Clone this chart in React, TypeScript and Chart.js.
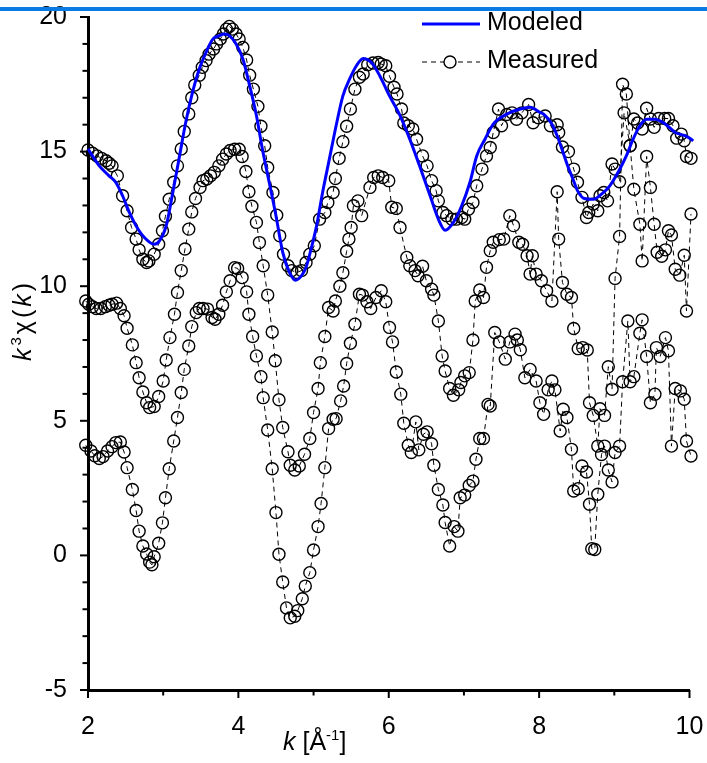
import React, { useEffect, useRef } from "react";
import { Chart, registerables } from "chart.js";

Chart.register(...registerables);

const FONT = '"Liberation Sans", Arial, Helvetica, sans-serif';

const xTickValues = [2, 4, 6, 8, 10];
const yTickValues = [-5, 0, 5, 10, 15, 20];
const legendLabels = ["Modeled", "Measured"];

const modeled: [number, number][] = [
  [2.0, 15.1], [2.06, 14.84], [2.15, 14.47], [2.28, 14.1], [2.37, 13.86], [2.46, 13.36], [2.55, 12.74],
  [2.64, 12.24], [2.75, 11.81], [2.88, 11.56], [2.95, 11.68], [3.04, 12.24], [3.12, 13.36], [3.21, 14.72],
  [3.3, 16.09], [3.39, 17.2], [3.48, 18.07], [3.57, 18.69], [3.66, 19.18], [3.75, 19.31], [3.81, 19.37],
  [3.88, 19.31], [3.97, 19.0], [4.06, 18.44], [4.15, 17.45], [4.24, 16.34], [4.32, 15.09], [4.41, 13.86],
  [4.5, 12.62], [4.59, 11.26], [4.68, 10.51], [4.76, 10.22], [4.84, 10.39], [4.9, 10.7], [4.96, 11.3],
  [5.04, 12.24], [5.12, 13.48], [5.21, 14.72], [5.3, 15.96], [5.39, 17.07], [5.48, 17.7], [5.57, 18.19],
  [5.66, 18.46], [5.77, 18.31], [5.88, 17.82], [6.01, 17.07], [6.15, 16.34], [6.28, 15.46], [6.41, 14.47],
  [6.55, 13.36], [6.66, 12.49], [6.75, 12.08], [6.86, 12.37], [6.97, 12.99], [7.08, 13.86], [7.17, 14.84],
  [7.28, 15.46], [7.39, 16.02], [7.57, 16.39], [7.75, 16.58], [7.88, 16.65], [8.01, 16.46], [8.06, 16.39],
  [8.17, 16.02], [8.24, 15.59], [8.31, 15.04], [8.38, 14.47], [8.45, 13.98], [8.51, 13.55], [8.6, 13.26],
  [8.72, 13.23], [8.83, 13.42], [8.94, 13.73], [9.05, 14.23], [9.16, 14.84], [9.25, 15.46], [9.34, 15.96],
  [9.43, 16.2], [9.54, 16.2], [9.68, 16.02], [9.81, 15.71], [9.94, 15.59], [10.05, 15.4], [10.12, 15.22],
];

const measuredTop: [number, number][] = [
  [2.0, 15.06], [2.06, 14.94], [2.12, 14.84], [2.18, 14.75], [2.24, 14.66], [2.28, 14.57], [2.32, 14.47],
  [2.39, 14.1], [2.46, 13.36], [2.52, 12.8], [2.58, 12.18], [2.64, 11.75], [2.68, 11.35], [2.73, 11.0],
  [2.78, 10.88], [2.81, 10.94], [2.88, 11.19], [2.94, 11.56], [2.99, 12.06], [3.03, 12.6], [3.08, 13.23],
  [3.14, 13.86], [3.19, 14.47], [3.24, 15.1], [3.28, 15.75], [3.34, 16.4], [3.38, 17.0], [3.42, 17.47],
  [3.48, 17.84], [3.52, 18.13], [3.57, 18.38], [3.61, 18.62], [3.67, 18.81], [3.71, 19.0], [3.76, 19.18],
  [3.8, 19.37], [3.84, 19.55], [3.88, 19.65], [3.92, 19.55], [3.97, 19.37], [4.01, 19.18], [4.06, 18.87],
  [4.11, 18.4], [4.15, 17.84], [4.2, 17.32], [4.26, 16.68], [4.3, 15.94], [4.35, 15.22], [4.39, 14.41],
  [4.46, 13.48], [4.51, 12.64], [4.55, 11.87], [4.6, 11.19], [4.66, 10.76], [4.71, 10.58], [4.78, 10.51],
  [4.84, 10.58], [4.9, 10.88], [4.95, 11.19], [5.01, 11.5], [5.08, 12.49], [5.15, 12.74], [5.19, 13.11],
  [5.26, 13.48], [5.29, 14.0], [5.34, 14.75], [5.39, 15.37], [5.44, 15.94], [5.49, 16.58], [5.55, 17.32],
  [5.61, 17.76], [5.66, 17.88], [5.72, 18.23], [5.79, 18.29], [5.86, 18.31], [5.9, 18.25], [5.96, 18.19],
  [6.01, 17.8], [6.07, 17.39], [6.11, 17.14], [6.17, 16.58], [6.2, 16.06], [6.26, 15.96], [6.32, 15.84],
  [6.37, 15.46], [6.45, 14.84], [6.51, 14.47], [6.57, 13.92], [6.63, 13.55], [6.66, 13.17], [6.72, 12.74],
  [6.77, 12.62], [6.84, 12.49], [6.9, 12.49], [6.97, 12.55], [7.01, 12.49], [7.06, 12.86], [7.12, 13.11],
  [7.17, 13.73], [7.24, 14.35], [7.3, 14.84], [7.35, 15.15], [7.39, 15.71], [7.46, 16.58], [7.5, 15.96],
  [7.57, 16.38], [7.64, 16.44], [7.7, 16.2], [7.77, 16.44], [7.86, 16.75], [7.92, 16.07], [7.99, 16.26],
  [8.08, 16.32], [8.15, 15.96], [8.24, 16.0], [8.26, 15.71], [8.31, 15.17], [8.39, 15.0], [8.46, 14.35],
  [8.51, 13.86], [8.57, 13.3], [8.63, 12.55], [8.66, 12.74], [8.72, 13.05], [8.78, 12.8], [8.81, 13.36],
  [8.86, 13.48], [8.91, 13.17], [8.97, 14.54], [9.01, 14.35], [9.07, 13.88], [9.13, 16.44], [9.21, 15.22],
  [9.26, 16.21], [9.31, 16.06], [9.37, 15.84], [9.43, 16.61], [9.48, 16.21], [9.53, 15.9], [9.59, 16.23],
  [9.67, 16.23], [9.72, 16.23], [9.78, 15.96], [9.83, 15.5], [9.89, 15.65], [9.93, 15.4], [9.96, 14.82],
  [10.02, 14.75],
];

const measuredMiddle: [number, number][] = [
  [1.97, 9.45], [2.01, 9.33], [2.06, 9.24], [2.11, 9.17], [2.17, 9.17], [2.23, 9.24], [2.28, 9.29],
  [2.32, 9.33], [2.38, 9.37], [2.43, 9.17], [2.48, 8.9], [2.52, 8.44], [2.59, 7.82], [2.64, 7.16],
  [2.68, 6.6], [2.73, 6.07], [2.78, 5.67], [2.82, 5.49], [2.88, 5.53], [2.94, 5.9], [3.0, 6.48],
  [3.04, 7.26], [3.09, 8.09], [3.15, 8.96], [3.19, 9.77], [3.24, 10.58], [3.29, 11.38], [3.34, 12.12],
  [3.38, 12.76], [3.43, 13.26], [3.49, 13.67], [3.53, 13.92], [3.58, 13.98], [3.63, 14.1], [3.68, 14.23],
  [3.74, 14.47], [3.79, 14.72], [3.84, 14.91], [3.89, 15.04], [3.95, 15.09], [4.01, 15.09], [4.05, 14.82],
  [4.1, 14.26], [4.14, 13.51], [4.18, 12.97], [4.24, 12.37], [4.28, 11.62], [4.33, 10.76], [4.39, 9.67],
  [4.45, 8.3], [4.49, 7.23], [4.54, 5.78], [4.59, 4.75], [4.66, 3.85], [4.69, 3.35], [4.75, 3.17],
  [4.81, 3.32], [4.88, 3.76], [4.95, 4.34], [5.0, 5.31], [5.06, 6.2], [5.09, 7.16], [5.15, 8.13],
  [5.2, 9.21], [5.26, 9.08], [5.29, 9.45], [5.35, 10.0], [5.39, 10.5], [5.44, 11.3], [5.47, 11.75],
  [5.5, 12.18], [5.53, 12.99], [5.59, 13.17], [5.64, 12.62], [5.75, 13.67], [5.8, 14.04], [5.86, 14.1],
  [5.92, 14.04], [6.0, 13.92], [6.04, 12.93], [6.1, 12.89], [6.15, 12.18], [6.24, 11.07], [6.28, 10.76],
  [6.35, 10.58], [6.39, 10.39], [6.45, 10.74], [6.5, 10.2], [6.57, 9.89], [6.6, 9.67], [6.66, 8.71],
  [6.71, 7.41], [6.75, 6.85], [6.81, 6.2], [6.86, 5.95], [6.93, 6.15], [6.96, 6.42], [7.01, 6.67],
  [7.07, 6.79], [7.12, 8.0], [7.15, 9.45], [7.21, 9.86], [7.26, 9.58], [7.3, 10.7], [7.35, 11.32],
  [7.39, 11.63], [7.47, 11.73], [7.53, 11.75], [7.61, 12.62], [7.66, 12.25], [7.73, 11.63], [7.78, 11.56],
  [7.84, 11.13], [7.88, 10.45], [7.91, 11.13], [7.96, 10.45], [8.03, 10.2], [8.1, 9.83], [8.17, 9.45],
  [8.24, 13.51], [8.26, 11.75], [8.31, 10.14], [8.37, 9.7], [8.43, 9.58], [8.46, 8.43], [8.52, 7.68],
  [8.58, 7.72], [8.64, 7.63], [8.67, 5.67], [8.72, 5.2], [8.78, 4.06], [8.81, 5.45], [8.87, 5.2],
  [8.92, 7.01], [8.97, 6.17], [9.01, 10.29], [9.07, 11.85], [9.11, 17.5], [9.16, 17.14], [9.21, 15.22],
  [9.26, 13.6], [9.34, 12.3], [9.37, 10.94], [9.43, 14.82], [9.48, 13.67], [9.53, 12.3], [9.57, 11.26],
  [9.63, 11.11], [9.68, 11.35], [9.72, 12.06], [9.76, 11.9], [9.81, 10.63], [9.87, 10.41], [9.93, 11.15],
  [9.96, 9.08], [10.02, 12.68],
];

const measuredBottom: [number, number][] = [
  [1.97, 4.09], [2.04, 3.88], [2.09, 3.7], [2.15, 3.6], [2.2, 3.67], [2.26, 3.88], [2.32, 4.04],
  [2.37, 4.19], [2.43, 4.21], [2.48, 3.84], [2.52, 3.26], [2.59, 2.45], [2.64, 1.67], [2.68, 0.9],
  [2.73, 0.35], [2.78, 0.05], [2.82, -0.25], [2.85, -0.35], [2.88, -0.05], [2.94, 0.45], [2.99, 1.21],
  [3.03, 2.14], [3.08, 3.22], [3.14, 4.25], [3.19, 5.12], [3.24, 6.05], [3.28, 6.91], [3.34, 7.78],
  [3.38, 8.5], [3.44, 9.02], [3.48, 9.17], [3.53, 9.17], [3.59, 9.15], [3.65, 8.84], [3.69, 8.77],
  [3.74, 8.96], [3.79, 9.29], [3.84, 9.79], [3.89, 10.2], [3.95, 10.69], [3.99, 10.66], [4.05, 10.32],
  [4.11, 9.79], [4.14, 8.96], [4.19, 8.13], [4.24, 7.41], [4.3, 6.64], [4.33, 5.86], [4.39, 4.66],
  [4.45, 3.22], [4.5, 1.59], [4.54, 0.04], [4.59, -0.99], [4.64, -1.95], [4.69, -2.32], [4.75, -2.26],
  [4.79, -2.05], [4.85, -1.61], [4.89, -1.14], [4.95, -0.64], [5.0, 0.2], [5.06, 1.07], [5.1, 1.93],
  [5.15, 3.26], [5.2, 4.71], [5.26, 5.06], [5.3, 5.08], [5.36, 5.74], [5.4, 6.29], [5.44, 7.13],
  [5.49, 7.88], [5.55, 8.59], [5.61, 9.7], [5.65, 9.67], [5.71, 9.42], [5.76, 9.17], [5.83, 9.58],
  [5.9, 9.83], [5.96, 9.42], [6.01, 8.47], [6.05, 7.93], [6.1, 6.81], [6.16, 5.99], [6.2, 4.91],
  [6.26, 4.09], [6.3, 3.82], [6.36, 4.96], [6.4, 3.92], [6.46, 4.5], [6.51, 4.59], [6.57, 4.15],
  [6.6, 3.35], [6.66, 2.45], [6.72, 1.87], [6.75, 1.22], [6.81, 0.35], [6.87, 1.07], [6.92, 0.9],
  [6.95, 2.14], [7.01, 2.24], [7.07, 2.6], [7.12, 2.76], [7.16, 3.57], [7.21, 4.34], [7.26, 4.34],
  [7.32, 5.61], [7.35, 5.55], [7.41, 8.28], [7.47, 7.93], [7.55, 7.29], [7.61, 7.93], [7.68, 8.22],
  [7.71, 8.0], [7.75, 7.64], [7.81, 6.6], [7.88, 6.91], [7.96, 6.48], [8.01, 5.67], [8.06, 5.24],
  [8.12, 6.15], [8.17, 6.48], [8.21, 6.15], [8.28, 4.62], [8.32, 5.43], [8.37, 5.12], [8.43, 3.94],
  [8.46, 2.39], [8.52, 2.48], [8.57, 3.32], [8.63, 3.1], [8.67, 1.9], [8.7, 0.25], [8.74, 0.22],
  [8.78, 2.27], [8.83, 3.75], [8.87, 4.06], [8.92, 3.17], [8.97, 2.73], [9.01, 3.82], [9.07, 4.06],
  [9.11, 6.45], [9.18, 8.71], [9.21, 6.45], [9.26, 6.64], [9.34, 8.25], [9.37, 8.75], [9.43, 7.39],
  [9.48, 5.67], [9.54, 5.99], [9.56, 7.72], [9.61, 7.39], [9.68, 8.09], [9.72, 7.6], [9.76, 4.06],
  [9.81, 6.2], [9.88, 6.11], [9.93, 5.8], [9.96, 4.25], [10.02, 3.69],
];

const toXY = (arr: [number, number][]) => arr.map(([x, y]) => ({ x, y }));

const measuredStyle = {
  showLine: true,
  borderColor: "#000",
  borderWidth: 1,
  borderDash: [5, 4],
  pointStyle: "circle",
  pointRadius: 6,
  pointBorderWidth: 1.4,
  pointBorderColor: "#000",
  pointBackgroundColor: "rgba(0,0,0,0)",
  tension: 0,
  clip: false as any,
};

export default function App() {
  const ref = useRef<HTMLCanvasElement>(null);

  useEffect(() => {
    const canvas = ref.current!;
    const decor = {
      id: "decor",
      afterDraw(chart: any) {
        const ctx = chart.ctx as CanvasRenderingContext2D;
        const xs = chart.scales.x;
        const ys = chart.scales.y;
        const area = chart.chartArea;
        ctx.save();
        // tick marks (major + minor)
        ctx.strokeStyle = "#000";
        ctx.lineWidth = 2;
        for (let v = 2; v <= 10; v++) {
          const px = xs.getPixelForValue(v);
          const len = v % 2 === 0 ? 8 : 5.5;
          ctx.beginPath();
          ctx.moveTo(px, area.bottom);
          ctx.lineTo(px, area.bottom + len);
          ctx.stroke();
        }
        for (let v = -5; v <= 20; v++) {
          const py = ys.getPixelForValue(v);
          const len = v % 5 === 0 ? 8 : 5.5;
          ctx.beginPath();
          ctx.moveTo(area.left - len, py);
          ctx.lineTo(area.left, py);
          ctx.stroke();
        }

        // legend
        ctx.fillStyle = "#000";
        ctx.font = `25px ${FONT}`;
        ctx.textBaseline = "middle";
        ctx.textAlign = "left";
        ctx.strokeStyle = "#0000ff";
        ctx.lineWidth = 3;
        ctx.beginPath();
        ctx.moveTo(422, 24);
        ctx.lineTo(480, 24);
        ctx.stroke();
        ctx.fillText(legendLabels[0], 487, 23);
        ctx.strokeStyle = "#000";
        ctx.lineWidth = 1;
        ctx.setLineDash([5, 4]);
        ctx.beginPath();
        ctx.moveTo(422, 62);
        ctx.lineTo(480, 62);
        ctx.stroke();
        ctx.setLineDash([]);
        ctx.lineWidth = 1.4;
        ctx.beginPath();
        ctx.arc(450, 62, 6, 0, Math.PI * 2);
        ctx.fillStyle = "#fff";
        ctx.fill();
        ctx.stroke();
        ctx.fillStyle = "#000";
        ctx.fillText(legendLabels[1], 487, 61);

        // x axis title: k [Å^-1]
        ctx.textBaseline = "alphabetic";
        let x = 283;
        const by = 750;
        ctx.font = `italic 25px ${FONT}`;
        ctx.fillText("k", x, by);
        x += ctx.measureText("k").width;
        ctx.font = `25px ${FONT}`;
        ctx.fillText(" [Å", x, by);
        x += ctx.measureText(" [Å").width;
        ctx.font = `15px ${FONT}`;
        ctx.fillText("-1", x, by - 10);
        x += ctx.measureText("-1").width;
        ctx.font = `25px ${FONT}`;
        ctx.fillText("]", x, by);

        // y axis title: k^3 χ(k)
        ctx.translate(31, 322);
        ctx.rotate(-Math.PI / 2);
        const gap = 3;
        const parts: [string, string, number][] = [
          ["k", `italic 25px ${FONT}`, 0],
          ["3", `15px ${FONT}`, -10],
          ["χ", `25px ${FONT}`, 0],
          ["(", `25px ${FONT}`, 0],
          ["k", `italic 25px ${FONT}`, 0],
          [")", `25px ${FONT}`, 0],
        ];
        let total = 0;
        for (const [t, f] of parts) {
          ctx.font = f;
          total += ctx.measureText(t).width + gap;
        }
        total -= gap;
        let cx = -total / 2;
        for (const [t, f, dy] of parts) {
          ctx.font = f;
          ctx.fillText(t, cx, dy);
          cx += ctx.measureText(t).width + gap;
        }
        ctx.restore();
      },
    };

    const chart = new Chart(canvas, {
      type: "scatter",
      data: {
        datasets: [
          {
            label: legendLabels[0],
            data: toXY(modeled),
            showLine: true,
            borderColor: "#0000ff",
            borderWidth: 3,
            pointRadius: 0,
            cubicInterpolationMode: "monotone",
            clip: false as any,
          },
          { label: legendLabels[1], data: toXY(measuredTop), ...measuredStyle },
          { label: legendLabels[1] + " 2", data: toXY(measuredMiddle), ...measuredStyle },
          { label: legendLabels[1] + " 3", data: toXY(measuredBottom), ...measuredStyle },
        ] as any,
      },
      options: {
        animation: false,
        responsive: false,
        devicePixelRatio: 1,
        layout: { padding: { top: 17, right: 17.5, left: 0, bottom: 0 } },
        plugins: { legend: { display: false }, tooltip: { enabled: false } },
        scales: {
          x: {
            type: "linear",
            min: 2,
            max: 10,
            afterBuildTicks: (s: any) => {
              s.ticks = xTickValues.map((v) => ({ value: v }));
            },
            afterFit: (s: any) => {
              s.height = 73;
              s.paddingLeft = 0;
              s.paddingRight = 0;
            },
            ticks: { font: { family: FONT, size: 25 }, color: "#000", padding: 22, maxRotation: 0 },
            grid: { display: true, drawOnChartArea: false, drawTicks: false },
            border: { display: true, color: "#000", width: 3 },
          },
          y: {
            type: "linear",
            min: -5,
            max: 20,
            afterBuildTicks: (s: any) => {
              s.ticks = yTickValues.map((v) => ({ value: v }));
            },
            afterFit: (s: any) => {
              s.width = 88;
              s.paddingTop = 0;
              s.paddingBottom = 0;
            },
            ticks: { font: { family: FONT, size: 25 }, color: "#000", padding: 21 },
            grid: { display: true, drawOnChartArea: false, drawTicks: false },
            border: { display: true, color: "#000", width: 3 },
          },
        },
      } as any,
      plugins: [decor],
    });
    return () => chart.destroy();
  }, []);

  return (
    <div style={{ position: "absolute", left: 0, top: 0, width: 707, height: 763, background: "#fff" }}>
      <canvas ref={ref} width={707} height={763} style={{ display: "block", width: 707, height: 763 }} />
      <div
        style={{ position: "absolute", left: 0, top: 7, width: 707, height: 4, background: "#0b7be3", pointerEvents: "none" }}
      />
    </div>
  );
}
